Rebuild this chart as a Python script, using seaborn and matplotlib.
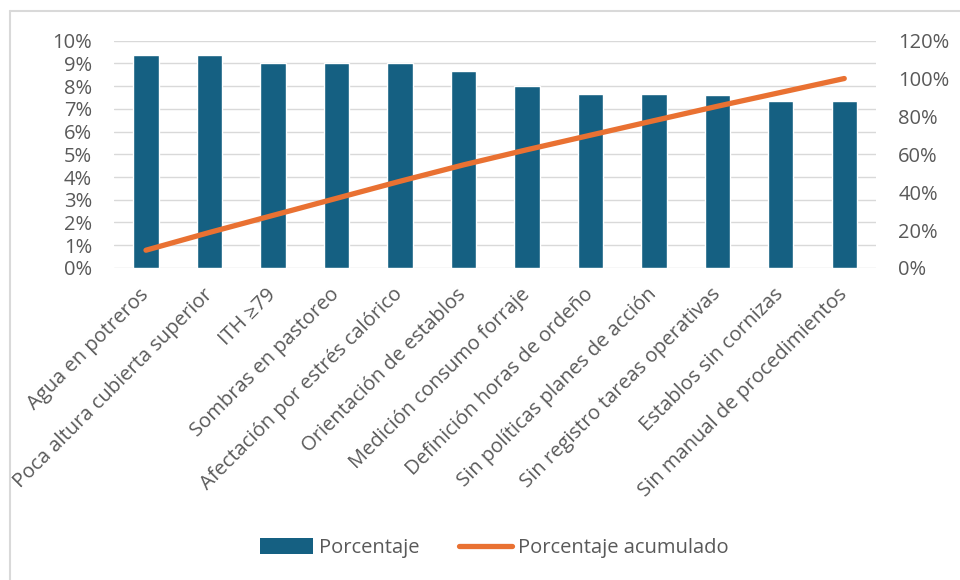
import numpy as np
import pandas as pd
import matplotlib
matplotlib.use("Agg")
import matplotlib.pyplot as plt
import seaborn as sns
from matplotlib.ticker import FuncFormatter, MultipleLocator
from matplotlib.patches import Patch
from matplotlib.lines import Line2D

categorias = [
    "Agua en potreros",
    "Poca altura cubierta superior",
    "ITH ≥79",
    "Sombras en pastoreo",
    "Afectación por estrés calórico",
    "Orientación de establos",
    "Medición consumo forraje",
    "Definición horas de ordeño",
    "Sin políticas planes de acción",
    "Sin registro tareas operativas",
    "Establos sin cornizas",
    "Sin manual de procedimientos",
]
porcentaje = [9.37, 9.37, 9.0, 9.0, 9.0, 8.65, 8.0, 7.67, 7.67, 7.6, 7.33, 7.33]

df = pd.DataFrame({"categoria": categorias, "porcentaje": porcentaje})
df["acumulado"] = df["porcentaje"].cumsum()
df["pos"] = np.arange(len(df))

AZUL = "#156082"
NARANJA = "#E97132"
GRIS_TXT = "#595959"
GRIS_LIN = "#D9D9D9"
FS = 14.5

sns.set_theme(style="white")
plt.rcParams["font.family"] = ["Open Sans", "DejaVu Sans"]

fig = plt.figure(figsize=(9.6, 5.8), dpi=100)
ax = fig.add_axes([0.119, 0.538, 0.7935, 0.392])

sns.barplot(data=df, x="categoria", y="porcentaje", color=AZUL, width=0.4,
            saturation=1, ax=ax, zorder=2)
ax.set_ylim(0, 10)
ax.yaxis.set_major_locator(MultipleLocator(1))
ax.yaxis.set_major_formatter(FuncFormatter(lambda v, _: f"{v:.0f}%"))
ax.grid(axis="y", color=GRIS_LIN, linewidth=1.0, zorder=0)
ax.set_axisbelow(True)
ax.set_xlim(-0.5, len(df) - 0.5)
ax.set_xlabel("")
ax.set_ylabel("")
for s in ax.spines.values():
    s.set_visible(False)
ax.tick_params(axis="y", length=0, labelsize=FS, labelcolor=GRIS_TXT, pad=16)
ax.tick_params(axis="x", length=0, labelsize=FS, labelcolor=GRIS_TXT, pad=17)
for lbl in ax.get_xticklabels():
    lbl.set_rotation(45)
    lbl.set_ha("right")
    lbl.set_va("center")
    lbl.set_rotation_mode("anchor")

ax2 = ax.twinx()
sns.lineplot(data=df, x="pos", y="acumulado", color=NARANJA, linewidth=3.8,
             solid_capstyle="round", ax=ax2, zorder=3)
ax2.set_ylim(0, 120)
ax2.yaxis.set_major_locator(MultipleLocator(20))
ax2.yaxis.set_major_formatter(FuncFormatter(lambda v, _: f"{v:.0f}%"))
ax2.set_xlim(-0.5, len(df) - 0.5)
ax2.set_ylabel("")
ax2.set_xlabel("")
for s in ax2.spines.values():
    s.set_visible(False)
ax2.tick_params(axis="y", length=0, labelsize=FS, labelcolor=GRIS_TXT, pad=16)
ax2.grid(False)

handles = [
    Patch(facecolor=AZUL, edgecolor="none"),
    Line2D([0], [0], color=NARANJA, linewidth=3.8, solid_capstyle="round"),
]
fig.legend(handles, ["Porcentaje", "Porcentaje acumulado"], loc="center",
           bbox_to_anchor=(0.515, 0.055), ncol=2, frameon=False, fontsize=FS,
           labelcolor=GRIS_TXT, handlelength=2.6, handleheight=0.8,
           handletextpad=0.3, columnspacing=2.0)

# chart frame
fig.add_artist(Line2D([0.0104, 0.0104], [0, 0.981], color=GRIS_LIN, linewidth=1.5,
                      transform=fig.transFigure))
fig.add_artist(Line2D([0.0104, 1.0], [0.981, 0.981], color=GRIS_LIN, linewidth=1.5,
                      transform=fig.transFigure))

fig.savefig("out.png", dpi=100, facecolor="white")
